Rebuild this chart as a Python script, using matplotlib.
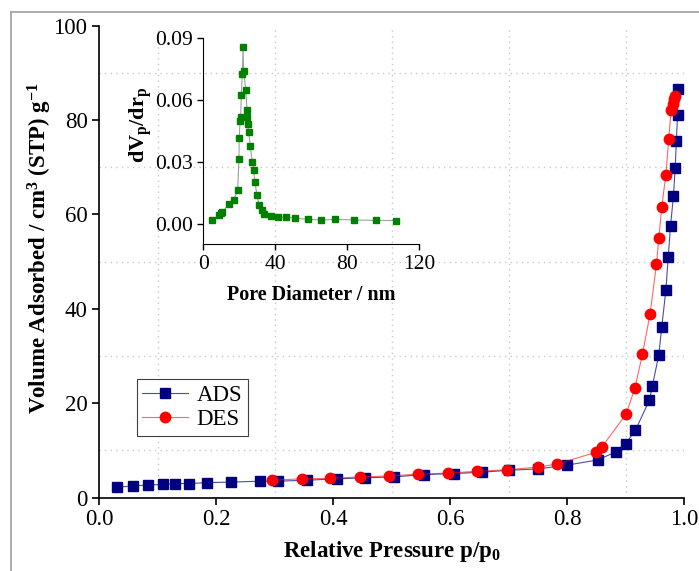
import numpy as np
import matplotlib
matplotlib.use('Agg')
import matplotlib.pyplot as plt
from matplotlib.lines import Line2D

plt.rcParams['font.family'] = 'Liberation Serif'
plt.rcParams['mathtext.fontset'] = 'custom'
plt.rcParams['mathtext.rm'] = 'Liberation Serif'
plt.rcParams['mathtext.bf'] = 'Liberation Serif:bold'
plt.rcParams['mathtext.default'] = 'bf'

# adsorption branch
ads_p = [0.031, 0.058, 0.084, 0.109, 0.130, 0.154, 0.185, 0.225, 0.275, 0.306,
         0.355, 0.407, 0.454, 0.504, 0.555, 0.606, 0.654, 0.700, 0.751, 0.800,
         0.853, 0.883, 0.900, 0.917, 0.941, 0.946, 0.957, 0.962, 0.969, 0.973,
         0.977, 0.982, 0.985, 0.987, 0.989, 0.990]
ads_v = [2.2, 2.5, 2.7, 2.8, 3.0, 3.0, 3.2, 3.3, 3.5, 3.5,
         3.7, 4.0, 4.2, 4.4, 4.9, 5.1, 5.4, 5.8, 6.1, 6.9,
         8.0, 9.7, 11.4, 14.3, 20.7, 23.7, 30.3, 36.2, 43.9, 50.9,
         57.6, 63.9, 69.9, 75.6, 81.1, 86.6]

# desorption branch
des_p = [0.296, 0.346, 0.395, 0.446, 0.496, 0.545, 0.596, 0.646, 0.698, 0.750,
         0.782, 0.849, 0.860, 0.901, 0.916, 0.929, 0.942, 0.953, 0.957, 0.962,
         0.969, 0.974, 0.978, 0.981, 0.983, 0.985]
des_v = [3.7, 4.0, 4.1, 4.4, 4.6, 5.0, 5.2, 5.6, 5.9, 6.5,
         7.1, 9.6, 10.8, 17.7, 23.2, 30.4, 38.9, 49.5, 55.0, 61.6,
         68.4, 76.1, 82.1, 83.4, 84.4, 85.1]

# pore size distribution (inset)
pore_d = [5.0, 8.7, 9.8, 10.6, 14.4, 16.9, 19.1, 19.8, 20.0, 20.4, 20.8, 21.1,
          21.7, 22.1, 22.4, 23.6, 24.3, 24.4, 24.8, 25.2, 26.1, 27.2, 28.0,
          28.7, 29.8, 31.1, 32.6, 33.9, 37.6, 41.5, 45.8, 50.9, 58.2, 65.2,
          73.3, 83.9, 95.8, 107.3]
dvdr = [0.0018, 0.0040, 0.0053, 0.0056, 0.0097, 0.0113, 0.0163, 0.0313, 0.0415,
        0.0499, 0.0518, 0.0624, 0.0726, 0.0856, 0.0740, 0.0650, 0.0552, 0.0520,
        0.0483, 0.0444, 0.0379, 0.0300, 0.0259, 0.0202, 0.0141, 0.0089, 0.0068,
        0.0049, 0.0035, 0.0032, 0.0032, 0.0027, 0.0021, 0.0018, 0.0021, 0.0018,
        0.0016, 0.0015]

fig = plt.figure(figsize=(6.99, 5.71), dpi=100)

# gray frame (cropped at right/bottom)
fig.add_artist(Line2D([11 / 699, 11 / 699], [0, 1 - 12 / 571], color='#a0a0a0', lw=1.2))
fig.add_artist(Line2D([11 / 699, 1], [1 - 12 / 571, 1 - 12 / 571], color='#a0a0a0', lw=1.2))

ax = fig.add_axes([0.1421, 0.1284, 0.8364, 0.8266])
ax.plot(ads_p, ads_v, '-s', color=(0.0, 0.0, 0.5, 0.7), mfc='#000080', mec='#000080',
        ms=6.5, lw=0.8, label='ADS', zorder=3)
ax.plot(des_p, des_v, '-o', color=(1.0, 0.0, 0.0, 0.6), mfc='#ff0000', mec='#ff0000',
        ms=7.5, lw=0.8, label='DES', zorder=3)
ax.set_xlim(0, 1)
ax.set_ylim(0, 100)
ax.set_xticks(np.arange(0, 1.01, 0.2))
ax.set_yticks(np.arange(0, 101, 20))
ax.set_xticks(np.arange(0.1, 1.0, 0.2), minor=True)
ax.set_yticks(np.arange(10, 100, 20), minor=True)
ax.grid(which='minor', color='#c8c8c8', linestyle=(0, (1, 3)), lw=1.0)
ax.tick_params(which='minor', length=0)
ax.tick_params(which='major', direction='out', length=5, width=1.2, labelsize=16.5)
ax.set_xticklabels(['0.0', '0.2', '0.4', '0.6', '0.8', '1.0'])
for s in ['top', 'right']:
    ax.spines[s].set_visible(False)
for s in ['left', 'bottom']:
    ax.spines[s].set_linewidth(1.2)
ax.set_facecolor('none')

ax.set_xlabel('Relative Pressure p/p$_0$', fontsize=16.5, fontweight='bold', labelpad=6)
fig.text(0.057, 0.566, 'Volume Adsorbed / cm$^3$ (STP) g$^{-1}$', rotation=90,
         ha='center', va='center', fontsize=16.5, fontweight='bold')

leg = ax.legend(loc='upper left', bbox_to_anchor=(0.064, 0.251), borderaxespad=0,
                fontsize=16.5, fancybox=False, framealpha=1, edgecolor='#404040',
                handlelength=2.0, handletextpad=0.35, borderpad=0.25, labelspacing=0.15)
leg.get_frame().set_linewidth(0.8)

# inset
ins = fig.add_axes([0.2908, 0.5722, 0.3091, 0.3607])
ins.plot(pore_d, dvdr, '-s', color='#a0a0a0', lw=0.8, mfc='#008000', mec='#008000', ms=3.8)
ins.set_xlim(0, 120)
ins.set_ylim(-0.01, 0.09)
ins.set_xticks([0, 40, 80, 120])
ins.set_yticks([0.0, 0.03, 0.06, 0.09])
ins.set_yticklabels(['0.00', '0.03', '0.06', '0.09'])
ins.tick_params(direction='out', length=4, width=1.0, labelsize=15.5)
for s in ['top', 'right']:
    ins.spines[s].set_visible(False)
ins.set_facecolor('none')
ins.set_xlabel('Pore Diameter / nm', fontsize=14.5, fontweight='bold', labelpad=8)
ins.set_ylabel('dV$_p$/dr$_p$', fontsize=16, fontweight='bold')
ins.yaxis.set_label_coords(-0.23, 0.58)

fig.savefig('out.png', dpi=100)
